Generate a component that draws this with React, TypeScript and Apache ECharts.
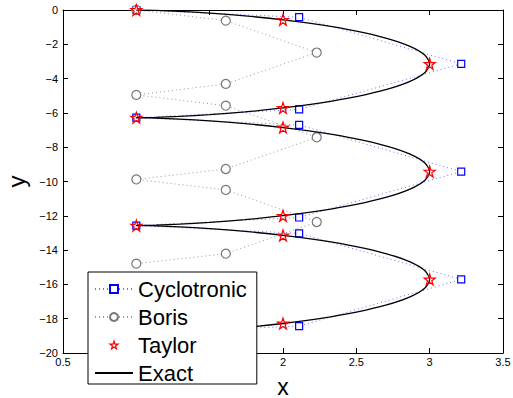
import React, { useEffect, useRef } from "react";
import * as echarts from "echarts";

const xTicks = [0.5, 1, 1.5, 2, 2.5, 3, 3.5];
const yTicks = [-20, -18, -16, -14, -12, -10, -8, -6, -4, -2, 0];

const cycX = [1, 2.11, 3.215, 2.11, 1, 2.11, 3.215, 2.11, 1, 2.11, 3.215, 2.11, 1];
const cycY = [0, -0.42, -3.14, -5.8, -6.28, -6.7, -9.42, -12.1, -12.57, -13.02, -15.71, -18.43, -18.85];

const borisX = [1, 1.61, 2.23, 1.61, 1, 1.61, 2.23, 1.61, 1, 1.61, 2.23, 1.61, 1];
const borisY = [0, -0.62, -2.48, -4.31, -4.95, -5.58, -7.42, -9.27, -9.88, -10.49, -12.36, -14.21, -14.79];

const taylorX = [1, 2, 3, 2, 1, 2, 3, 2, 1, 2, 3, 2, 1];
const taylorY = [0, -0.57, -3.14, -5.71, -6.28, -6.85, -9.42, -12.0, -12.57, -13.14, -15.71, -18.28, -18.85];

const exactX = [
  1.0, 1.034, 1.134, 1.293, 1.5, 1.741, 2.0, 2.259, 2.5, 2.707, 2.866, 2.966, 3.0, 2.966, 2.866, 2.707, 2.5, 2.259, 2.0, 1.741, 1.5, 1.293, 1.134, 1.034,
  1.0, 1.034, 1.134, 1.293, 1.5, 1.741, 2.0, 2.259, 2.5, 2.707, 2.866, 2.966, 3.0, 2.966, 2.866, 2.707, 2.5, 2.259, 2.0, 1.741, 1.5, 1.293, 1.134, 1.034,
  1.0, 1.034, 1.134, 1.293, 1.5, 1.741, 2.0, 2.259, 2.5, 2.707, 2.866, 2.966, 3.0, 2.966, 2.866, 2.707, 2.5, 2.259, 2.0, 1.741, 1.5, 1.293, 1.134, 1.034,
  1.0,
];
const exactY = [
  0, -0.003, -0.0236, -0.0783, -0.1812, -0.3431, -0.5708, -0.8667, -1.2284, -1.6491, -2.118, -2.621, -3.1416, -3.6622, -4.1652, -4.6341, -5.0548, -5.4165, -5.7124, -5.9401, -6.102, -6.2049, -6.2596, -6.2802,
  -6.2832, -6.2862, -6.3068, -6.3615, -6.4644, -6.6263, -6.854, -7.1499, -7.5116, -7.9323, -8.4012, -8.9042, -9.4248, -9.9454, -10.4484, -10.9173, -11.338, -11.6997, -11.9956, -12.2233, -12.3852, -12.4881, -12.5428, -12.5634,
  -12.5664, -12.5694, -12.59, -12.6447, -12.7476, -12.9095, -13.1372, -13.4331, -13.7948, -14.2155, -14.6844, -15.1874, -15.708, -16.2286, -16.7316, -17.2005, -17.6212, -17.9829, -18.2788, -18.5065, -18.6684, -18.7713, -18.826, -18.8466,
  -18.8496,
];

const seriesNames = ["Cyclotronic", "Boris", "Taylor", "Exact"];

const STAR =
  "path://M0,-100 L22.45,-30.9 L95.1,-30.9 L36.3,11.8 L58.8,80.9 L0,38.2 L-58.8,80.9 L-36.3,11.8 L-95.1,-30.9 L-22.45,-30.9 Z";

const zip = (xs: number[], ys: number[]) => xs.map((x, i) => [x, ys[i]]);

const FONT = "Liberation Sans, Arial, Helvetica, sans-serif";

export default function App() {
  const ref = useRef<HTMLDivElement>(null);
  useEffect(() => {
    if (!ref.current) return;
    const chart = echarts.init(ref.current, null, { renderer: "svg" });
    const fmtY = (v: number) => (v < 0 ? "\u2212" + String(-v) : String(v));
    const tickStyle = { inside: true, length: 5, lineStyle: { color: "#000", width: 1 } };
    chart.setOption({
      animation: false,
      backgroundColor: "#fff",
      textStyle: { fontFamily: FONT },
      grid: { left: 63, right: 10, top: 10, bottom: 45, outerBoundsMode: "none", containLabel: false },
      legend: {
        data: seriesNames.map((n) =>
          n === "Taylor"
            ? { name: n, itemStyle: { color: "#fff", borderColor: "#ff0000", borderWidth: 1.2 } }
            : { name: n }
        ),
        orient: "vertical",
        left: 88,
        top: 272,
        backgroundColor: "#fff",
        borderColor: "#000",
        borderWidth: 1,
        borderRadius: 0,
        padding: [6, 10, 0, 6],
        itemWidth: 38,
        itemHeight: 10,
        itemGap: 6,
        textStyle: { fontSize: 22, color: "#000", fontFamily: FONT },
        inactiveColor: "#000",
        selectedMode: false,
        z: 10,
      },
      xAxis: [
        {
          type: "value",
          min: 0.5,
          max: 3.5,
          interval: 0.5,
          name: "x",
          nameLocation: "middle",
          nameGap: 22,
          nameTextStyle: { fontSize: 23, color: "#000", fontFamily: FONT },
          axisLine: { show: true, onZero: false, lineStyle: { color: "#000", width: 1 } },
          axisTick: tickStyle,
          axisLabel: { color: "#000", fontSize: 11, margin: 3, fontFamily: FONT },
          splitLine: { show: false },
        },
        {
          type: "value",
          position: "top",
          min: 0.5,
          max: 3.5,
          interval: 0.5,
          axisLine: { show: true, onZero: false, lineStyle: { color: "#000", width: 1 } },
          axisTick: tickStyle,
          axisLabel: { show: false },
          splitLine: { show: false },
        },
      ],
      yAxis: [
        {
          type: "value",
          min: -20,
          max: 0,
          interval: 2,
          name: "y",
          nameLocation: "middle",
          nameGap: 26,
          nameRotate: 90,
          nameTextStyle: { fontSize: 24, color: "#000", fontFamily: FONT },
          axisLine: { show: true, onZero: false, lineStyle: { color: "#000", width: 1 } },
          axisTick: tickStyle,
          axisLabel: { color: "#000", fontSize: 11, margin: 5, formatter: fmtY, fontFamily: FONT },
          splitLine: { show: false },
        },
        {
          type: "value",
          position: "right",
          min: -20,
          max: 0,
          interval: 2,
          axisLine: { show: true, onZero: false, lineStyle: { color: "#000", width: 1 } },
          axisTick: tickStyle,
          axisLabel: { show: false },
          splitLine: { show: false },
        },
      ],
      series: [
        {
          name: "Cyclotronic",
          type: "line",
          data: zip(cycX, cycY),
          symbol: "rect",
          symbolSize: 7,
          showAllSymbol: true,
          itemStyle: { color: "#fff", borderColor: "#0000ff", borderWidth: 1.2 },
          lineStyle: { color: "#6f6fff", width: 1, type: [1, 3] },
          z: 2,
        },
        {
          name: "Boris",
          type: "line",
          data: zip(borisX, borisY),
          symbol: "circle",
          symbolSize: 9,
          showAllSymbol: true,
          itemStyle: { color: "#fff", borderColor: "#777", borderWidth: 1.2 },
          lineStyle: { color: "#999", width: 1, type: [1, 3] },
          z: 2,
        },
        {
          name: "Taylor",
          type: "line",
          data: zip(taylorX, taylorY),
          symbol: STAR,
          symbolSize: 11,
          showAllSymbol: true,
          itemStyle: { color: "rgba(255,255,255,0)", borderColor: "#ff0000", borderWidth: 1.2 },
          lineStyle: { width: 0, opacity: 0 },
          z: 5,
        },
        {
          name: "Exact",
          type: "line",
          data: zip(exactX, exactY),
          symbol: "circle",
          showSymbol: false,
          smooth: 0.25,
          itemStyle: { color: "rgba(0,0,0,0)" },
          lineStyle: { color: "#000", width: 1.3 },
          z: 4,
        },
      ],
    });
    return () => chart.dispose();
  }, []);
  return <div ref={ref} style={{ position: "fixed", left: 0, top: 0, width: 513, height: 398 }} />;
}
